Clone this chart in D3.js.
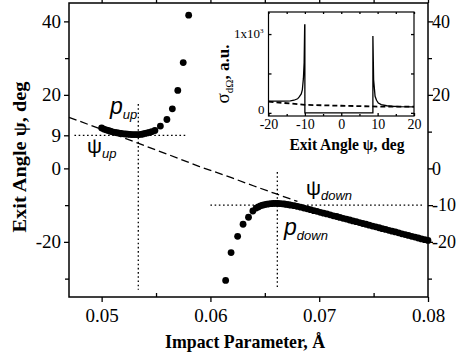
<!DOCTYPE html>
<html>
<head>
<meta charset="utf-8">
<script src="https://cdn.jsdelivr.net/npm/d3@7"></script>
<style>
  html, body { margin: 0; padding: 0; background: #fff; }
  svg { display: block; }
</style>
</head>
<body>
<div id="chart"></div>
<script>
const SERIF = "'Liberation Serif', 'Times New Roman', serif";
const SANS = "'Liberation Sans', Arial, sans-serif";

// upper branch (impact parameter, exit angle)
const upP = [0.0500, 0.0502, 0.0504, 0.0506, 0.0508, 0.0510, 0.0512, 0.0514, 0.0516, 0.0518,
  0.0520, 0.0522, 0.0524, 0.0526, 0.0528, 0.0530, 0.0532, 0.0534, 0.0536, 0.0538,
  0.0540, 0.0542, 0.0544, 0.0546, 0.0549, 0.0554, 0.0560, 0.0565, 0.0570, 0.0575, 0.0580];
const upPsi = [11.0, 10.7, 10.5, 10.3, 10.1, 9.95, 9.8, 9.7, 9.6, 9.5,
  9.4, 9.35, 9.3, 9.25, 9.2, 9.2, 9.2, 9.2, 9.25, 9.35,
  9.5, 9.65, 9.8, 10.0, 10.3, 11.5, 13.3, 16.2, 21.2, 28.8, 41.7];

// lower branch
const downP = [0.0614, 0.0619, 0.0625, 0.0630, 0.0635, 0.0639, 0.0642, 0.0644, 0.0646, 0.0648,
  0.0650, 0.0652, 0.0654, 0.0656, 0.0658, 0.0660, 0.0662, 0.0664, 0.0666, 0.0668,
  0.0670, 0.0672, 0.0674, 0.0677, 0.0680, 0.0683, 0.0686, 0.0689, 0.0692, 0.0695,
  0.0698, 0.0701, 0.0704, 0.0707, 0.0710, 0.0713, 0.0716, 0.0719, 0.0722, 0.0725,
  0.0728, 0.0731, 0.0734, 0.0737, 0.0740, 0.0743, 0.0746, 0.0749, 0.0752, 0.0755,
  0.0758, 0.0761, 0.0764, 0.0767, 0.0770, 0.0773, 0.0776, 0.0779, 0.0782, 0.0785,
  0.0788, 0.0791, 0.0794, 0.0797, 0.0800];
const downPsi = [-30.5, -22.9, -18.5, -15.2, -13.3, -11.6, -10.8, -10.5, -10.2, -10.0,
  -9.85, -9.75, -9.65, -9.6, -9.55, -9.55, -9.55, -9.6, -9.65, -9.7,
  -9.8, -9.9, -10.0, -10.15, -10.35, -10.55, -10.8, -11.0, -11.25, -11.5,
  -11.7, -11.95, -12.2, -12.4, -12.65, -12.9, -13.1, -13.35, -13.6, -13.8,
  -14.05, -14.3, -14.5, -14.75, -15.0, -15.2, -15.45, -15.7, -15.9, -16.15,
  -16.4, -16.6, -16.85, -17.1, -17.3, -17.55, -17.8, -18.0, -18.25, -18.5,
  -18.7, -18.95, -19.2, -19.4, -19.6];

// dashed asymptote
const dashP = [0.0470, 0.0500, 0.0534, 0.0560, 0.0590, 0.0620, 0.0640, 0.0660, 0.0680];
const dashPsi = [13.9, 10.6, 6.8, 3.9, 0.5, -2.6, -4.8, -6.9, -9.0];

// marked values
const psiUp = 9, psiDown = -10;
const pUp = 0.05337, pDown = 0.06615;

// ticks
const leftTicks = [40, 20, 9, 0, -20];
const leftMinor = [30, -10, -30];
const rightTicks = [40, 20, 0, -10, -20];
const rightMinor = [30, 10, -30];
const xTicks = [0.05, 0.06, 0.07, 0.08];
const xMinor = [0.055, 0.065, 0.075];

// inset: cross section vs exit angle
const insetAngle = [-20, -16, -14, -13, -12, -11.5, -11, -10.7, -10.4, -10.2, -10.05, -10, -10,
  8.7, 8.7, 8.9, 9.3, 9.7, 10.2, 11, 12.5, 14, 16, 20];
const insetSolid = [150, 150, 152, 160, 178, 205, 240, 290, 440, 640, 1115, 1115, 0,
  0, 975, 420, 210, 160, 125, 105, 90, 84, 80, 77];
const insetDashAngle = [-20, -10, 0, 10, 20];
const insetDash = [143, 102, 90, 80, 78];
const insetXTicks = [-20, -10, 0, 10, 20];
const insetXMinor = [-15, -5, 5, 15];
const insetYTicks = [0, 500, 1000];

const width = 459, height = 358;
const svg = d3.select('#chart').append('svg')
  .attr('width', width)
  .attr('height', height);

const x = d3.scaleLinear().domain([0.047, 0.08]).range([69, 428]);
const y = d3.scaleLinear().domain([-35, 45]).range([297, 3]);

// frame
svg.append('rect')
  .attr('x', x.range()[0]).attr('y', y.range()[1])
  .attr('width', x.range()[1] - x.range()[0])
  .attr('height', y.range()[0] - y.range()[1])
  .attr('fill', 'none').attr('stroke', '#000').attr('stroke-width', 1.5);

function styleAxis(g, size) {
  g.attr('font-family', SERIF).attr('font-size', size);
  g.select('.domain').remove();
  g.selectAll('line').attr('stroke', '#000').attr('stroke-width', 1.3);
  g.selectAll('text')
    .style('font-family', SERIF)
    .attr('font-size', size)
    .attr('fill', '#000');
}

const fmtX = d3.format('.2f');
svg.append('g').attr('transform', `translate(0,${y.range()[0]})`)
  .call(d3.axisBottom(x).tickValues(xTicks).tickFormat(fmtX).tickSize(5).tickPadding(7))
  .call(g => styleAxis(g, 19));
svg.append('g').attr('transform', `translate(0,${y.range()[0]})`)
  .call(d3.axisBottom(x).tickValues(xMinor).tickFormat('').tickSize(-4))
  .call(g => styleAxis(g, 19));
svg.append('g').attr('transform', `translate(0,${y.range()[1]})`)
  .call(d3.axisTop(x).tickValues(xTicks.concat(xMinor)).tickFormat('').tickSize(5))
  .call(g => styleAxis(g, 19));

svg.append('g').attr('transform', `translate(${x.range()[0]},0)`)
  .call(d3.axisLeft(y).tickValues(leftTicks).tickFormat(d => String(d)).tickSize(5).tickPadding(3))
  .call(g => styleAxis(g, 19));
svg.append('g').attr('transform', `translate(${x.range()[0]},0)`)
  .call(d3.axisLeft(y).tickValues(leftMinor).tickFormat('').tickSize(4))
  .call(g => styleAxis(g, 19));

svg.append('g').attr('transform', `translate(${x.range()[1]},0)`)
  .call(d3.axisRight(y).tickValues(rightTicks).tickFormat(d => String(d)).tickSize(5).tickPadding(-1))
  .call(g => styleAxis(g, 18));
svg.append('g').attr('transform', `translate(${x.range()[1]},0)`)
  .call(d3.axisRight(y).tickValues(rightMinor).tickFormat('').tickSize(4))
  .call(g => styleAxis(g, 18));

// axis titles
svg.append('text')
  .attr('font-family', SERIF)
  .attr('x', 245).attr('y', 348)
  .attr('text-anchor', 'middle')
  .attr('font-size', 19).attr('font-weight', 'bold')
  .attr('textLength', 160).attr('lengthAdjust', 'spacingAndGlyphs')
  .text('Impact Parameter, Å');

svg.append('text')
  .attr('font-family', SERIF)
  .attr('transform', 'translate(26,157) rotate(-90)')
  .attr('text-anchor', 'middle')
  .attr('font-size', 19).attr('font-weight', 'bold')
  .attr('textLength', 151).attr('lengthAdjust', 'spacingAndGlyphs')
  .text('Exit Angle ψ, deg');

// dotted guide lines
const dotted = svg.append('g')
  .attr('stroke', '#000').attr('stroke-width', 1.3)
  .attr('stroke-dasharray', '1.6,2.6').attr('fill', 'none');
dotted.append('line')
  .attr('x1', x(0.0475)).attr('x2', x(0.0579))
  .attr('y1', y(psiUp)).attr('y2', y(psiUp));
dotted.append('line')
  .attr('x1', x(pUp)).attr('x2', x(pUp))
  .attr('y1', y(17.5)).attr('y2', y(-33));
dotted.append('line')
  .attr('x1', x(0.0600)).attr('x2', x(0.0795))
  .attr('y1', y(psiDown)).attr('y2', y(psiDown));
dotted.append('line')
  .attr('x1', x(pDown)).attr('x2', x(pDown))
  .attr('y1', y(-1)).attr('y2', y(-33));

// dashed asymptote
const line = d3.line().x(d => x(d[0])).y(d => y(d[1]));
svg.append('path')
  .datum(d3.zip(dashP, dashPsi))
  .attr('d', line)
  .attr('fill', 'none').attr('stroke', '#000').attr('stroke-width', 1.3)
  .attr('stroke-dasharray', '8,4');

// scatter points
const pts = d3.zip(upP, upPsi).concat(d3.zip(downP, downPsi));
svg.append('g').selectAll('circle')
  .data(pts)
  .join('circle')
  .attr('cx', d => x(d[0]))
  .attr('cy', d => y(d[1]))
  .attr('r', 3.4)
  .attr('fill', '#000');

// annotations
function label(px, py, main, sub, mainSize, italicMain) {
  const t = svg.append('text').attr('font-family', SANS).attr('x', px).attr('y', py).attr('fill', '#000');
  t.append('tspan').attr('font-size', mainSize).attr('font-style', italicMain ? 'italic' : 'normal').text(main);
  t.append('tspan').attr('font-size', 13).attr('font-style', 'italic').attr('dy', 5).text(sub);
}
label(110, 114, 'p', 'up', 23, true);
label(87, 153, 'ψ', 'up', 21, false);
label(306, 195, 'ψ', 'down', 21, false);
label(284, 235, 'p', 'down', 23, true);

// inset
const ix = d3.scaleLinear().domain([-20, 20]).range([268.5, 414]);
const iy = d3.scaleLinear().domain([-40, 1280]).range([116, 12]);
const inset = svg.append('g');
inset.append('rect')
  .attr('x', ix.range()[0]).attr('y', iy.range()[1])
  .attr('width', ix.range()[1] - ix.range()[0])
  .attr('height', iy.range()[0] - iy.range()[1])
  .attr('fill', '#fff').attr('stroke', '#000').attr('stroke-width', 1.2);

inset.append('g').attr('transform', `translate(0,${iy.range()[0]})`)
  .call(d3.axisBottom(ix).tickValues(insetXTicks).tickFormat(d => d < 0 ? '-' + (-d) : String(d)).tickSize(-3).tickPadding(3))
  .call(g => styleAxis(g, 14));
inset.append('g').attr('transform', `translate(0,${iy.range()[0]})`)
  .call(d3.axisBottom(ix).tickValues(insetXMinor).tickFormat('').tickSize(-2))
  .call(g => styleAxis(g, 14));
inset.append('g').attr('transform', `translate(0,${iy.range()[1]})`)
  .call(d3.axisTop(ix).tickValues(insetXTicks.concat(insetXMinor)).tickFormat('').tickSize(-2))
  .call(g => styleAxis(g, 14));
inset.append('g').attr('transform', `translate(${ix.range()[0]},0)`)
  .call(d3.axisLeft(iy).tickValues(insetYTicks).tickFormat('').tickSize(-3))
  .call(g => styleAxis(g, 14));
inset.append('g').attr('transform', `translate(${ix.range()[1]},0)`)
  .call(d3.axisRight(iy).tickValues(insetYTicks).tickFormat('').tickSize(-3))
  .call(g => styleAxis(g, 14));

// inset y tick labels
inset.append('text').attr('font-family', SERIF)
  .attr('x', ix.range()[0] - 4).attr('y', iy(0) + 1)
  .attr('text-anchor', 'end').attr('font-size', 13).text('0');
const e3 = inset.append('text').attr('font-family', SERIF)
  .attr('x', ix.range()[0] - 5).attr('y', iy(1000) + 4)
  .attr('text-anchor', 'end').attr('font-size', 13);
e3.append('tspan').text('1x10');
e3.append('tspan').attr('font-size', 7).attr('dy', -5).text('3');

const iline = d3.line().x(d => ix(d[0])).y(d => iy(d[1]));
inset.append('path')
  .datum(d3.zip(insetAngle, insetSolid))
  .attr('d', iline)
  .attr('fill', 'none').attr('stroke', '#000').attr('stroke-width', 1.3);
inset.append('path')
  .datum(d3.zip(insetDashAngle, insetDash))
  .attr('d', iline)
  .attr('fill', 'none').attr('stroke', '#000').attr('stroke-width', 1.8)
  .attr('stroke-dasharray', '5,3');

// inset titles
inset.append('text').attr('font-family', SERIF)
  .attr('x', 347).attr('y', 150)
  .attr('text-anchor', 'middle')
  .attr('font-size', 16).attr('font-weight', 'bold')
  .attr('textLength', 115).attr('lengthAdjust', 'spacingAndGlyphs')
  .text('Exit Angle ψ, deg');

const iyl = inset.append('text').attr('font-family', SERIF)
  .attr('transform', 'translate(229,74) rotate(-90)')
  .attr('text-anchor', 'middle')
  .attr('font-size', 19);
iyl.append('tspan').text('σ');
iyl.append('tspan').attr('font-size', 11).attr('dy', 4).text('dΩ');
iyl.append('tspan').attr('dy', -4).attr('font-weight', 'bold').attr('font-size', 17).text(', a.u.');
</script>
</body>
</html>
